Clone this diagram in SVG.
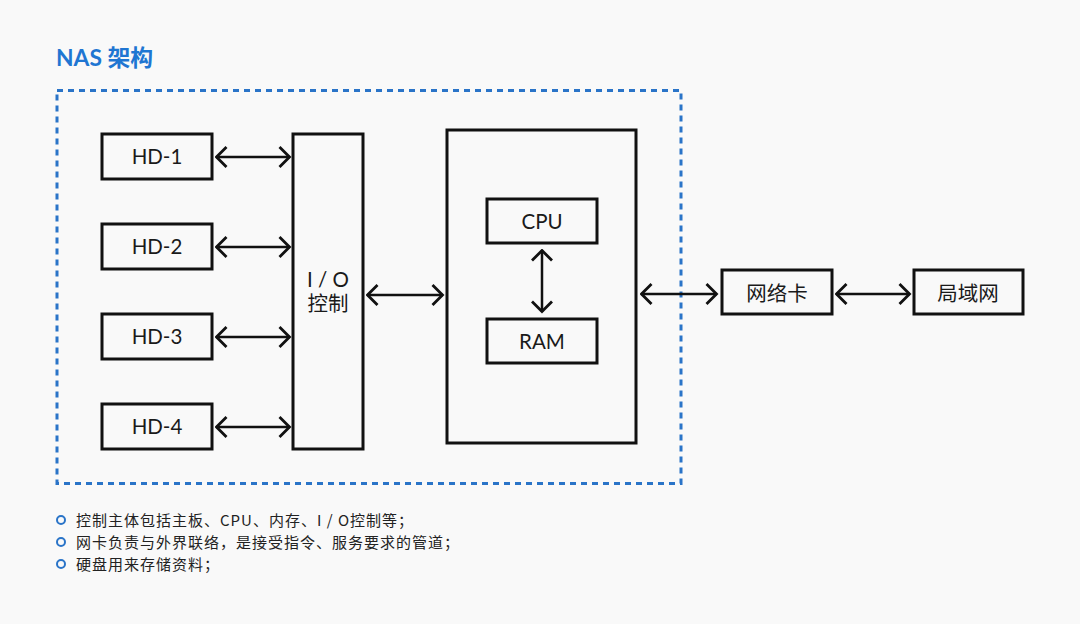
<svg xmlns="http://www.w3.org/2000/svg" width="1080" height="624" viewBox="0 0 1080 624">
<style>
.box{fill:none;stroke:#111;stroke-width:3}
.lbl{font-family:Lato,"Noto Sans CJK SC",sans-serif;font-size:20.5px;fill:#1a1a1a;text-anchor:middle}
.con{stroke:#111;stroke-width:2.5;fill:none;marker-start:url(#ah);marker-end:url(#ah)}
.note{font-family:"Noto Sans CJK SC",sans-serif;font-size:15px;letter-spacing:1px;fill:#222}
.dot{fill:none;stroke:#2a74c8;stroke-width:2}
</style>
<defs>
<marker id="ah" viewBox="0 0 14 24" refX="12.5" refY="12" markerWidth="14" markerHeight="24" markerUnits="userSpaceOnUse" orient="auto-start-reverse">
<path d="M2,2 L12,12 L2,22" fill="none" stroke="#111" stroke-width="2.8"/>
</marker>
</defs>
<rect width="1080" height="624" fill="#f9f9f9"/>
<text x="56" y="66" font-family="Lato,'Noto Sans CJK SC',sans-serif" font-size="22.8" font-weight="bold" fill="#1f76d2">NAS 架构</text>
<rect x="57" y="90.5" width="624" height="393" fill="none" stroke="#2a74c8" stroke-width="3" stroke-dasharray="6,5"/>
<g id="hd1"><rect class="box" x="102" y="134" width="110" height="45"/><text class="lbl" x="157" y="164">HD-1</text></g>
<g id="hd2"><rect class="box" x="102" y="224" width="110" height="45"/><text class="lbl" x="157" y="254">HD-2</text></g>
<g id="hd3"><rect class="box" x="102" y="314" width="110" height="45"/><text class="lbl" x="157" y="344">HD-3</text></g>
<g id="hd4"><rect class="box" x="102" y="404" width="110" height="45"/><text class="lbl" x="157" y="434">HD-4</text></g>
<g id="io"><rect class="box" x="293" y="134" width="70" height="315"/><text class="lbl" x="328" y="287">I / O</text><text class="lbl" x="328" y="311">控制</text></g>
<g id="main"><rect class="box" x="447" y="130" width="189" height="313"/></g>
<g id="cpu"><rect class="box" x="487" y="199" width="110" height="44"/><text class="lbl" x="542" y="229">CPU</text></g>
<g id="ram"><rect class="box" x="487" y="319" width="110" height="44"/><text class="lbl" x="542" y="349">RAM</text></g>
<g id="nic"><rect class="box" x="722" y="270" width="110" height="44"/><text class="lbl" x="777" y="301">网络卡</text></g>
<g id="lan"><rect class="box" x="914" y="270" width="109" height="44"/><text class="lbl" x="968" y="301">局域网</text></g>
<g id="connectors">
<line class="con" x1="216" y1="157" x2="290" y2="157"/>
<line class="con" x1="216" y1="247" x2="290" y2="247"/>
<line class="con" x1="216" y1="337" x2="290" y2="337"/>
<line class="con" x1="216" y1="427" x2="290" y2="427"/>
<line class="con" x1="367" y1="295" x2="443" y2="295"/>
<line class="con" x1="542" y1="250" x2="542" y2="312"/>
<line class="con" x1="641" y1="294" x2="717" y2="294"/>
<line class="con" x1="836" y1="294" x2="910" y2="294"/>
</g>
<g id="notes">
<circle class="dot" cx="61" cy="520" r="4"/><text class="note" x="76" y="526">控制主体包括主板、CPU、内存、I / O控制等；</text>
<circle class="dot" cx="61" cy="542" r="4"/><text class="note" x="76" y="548">网卡负责与外界联络，是接受指令、服务要求的管道；</text>
<circle class="dot" cx="61" cy="564" r="4"/><text class="note" x="76" y="570">硬盘用来存储资料；</text>
</g>
</svg>
